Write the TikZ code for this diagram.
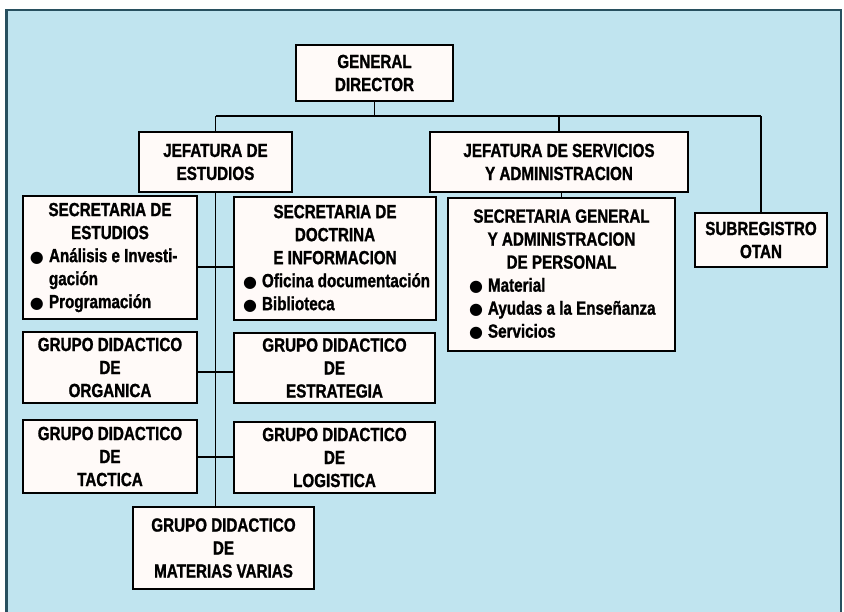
\documentclass[tikz,border=0pt]{standalone}
\usepackage{fontspec}
\setmainfont{Liberation Sans}[FakeStretch=0.8, BoldFeatures={FakeBold=1.2}]
\newfontfamily\symfont{DejaVu Sans}
\newcommand\bul{\makebox[19pt][l]{\symfont\fontsize{16}{16}\selectfont ●}}
\definecolor{bgblue}{RGB}{192,228,239}
\definecolor{framecol}{RGB}{40,80,95}
\definecolor{boxfill}{RGB}{255,250,248}
\tikzset{
  orgbox/.style={draw=black, line width=1.8pt, fill=boxfill, inner sep=0pt,
    align=center, font=\bfseries\fontsize{19}{23}\selectfont},
  link/.style={draw=black, line width=1.8pt}
}
\begin{document}
\begin{tikzpicture}[x=1pt,y=-1pt]
\useasboundingbox (0,0) rectangle (844,611);
\fill[white] (0,0) rectangle (844,611);
\begin{scope}
\clip (0,0) rectangle (844,611);
\filldraw[fill=bgblue, draw=framecol, line width=2.2pt] (6.5,10) rectangle (841,640);
\end{scope}
% coordinates for bus lines
\coordinate (bus) at (0,116);
\coordinate (j1) at (215,267);
\coordinate (j2) at (215,372);
\coordinate (j3) at (215,457);
% boxes
\node[orgbox, minimum width=157pt, minimum height=56pt] (dir) at (374.5,73) {GENERAL\\DIRECTOR};
\node[orgbox, minimum width=153pt, minimum height=60pt] (je) at (215.5,162) {JEFATURA DE\\ESTUDIOS};
\node[orgbox, minimum width=258pt, minimum height=60pt] (js) at (559,162) {JEFATURA DE SERVICIOS\\Y ADMINISTRACION};
\node[orgbox, minimum width=132pt, minimum height=54pt] (sub) at (761,240) {SUBREGISTRO\\OTAN};
\draw[link] (je.north |- bus) -- (sub.north |- bus);
\draw[link] (dir.south) -- (dir.south |- bus);
\draw[link] (je.north |- bus) -- (je.north);
\draw[link] (js.north |- bus) -- (js.north);
\draw[link] (sub.north |- bus) -- (sub.north);
\node[orgbox, minimum width=174pt, minimum height=123pt] (se) at (110,257.5)
  {SECRETARIA DE\\ESTUDIOS\\
   \makebox[160pt][l]{\bul Análisis e Investi-}\\
   \makebox[160pt][l]{\hspace*{19pt}gación}\\
   \makebox[160pt][l]{\bul Programación}};
\node[orgbox, minimum width=202pt, minimum height=123pt] (sd) at (335,258.5)
  {SECRETARIA DE\\DOCTRINA\\E INFORMACION\\
   \makebox[184pt][l]{\bul Oficina documentación}\\
   \makebox[184pt][l]{\bul Biblioteca}};
\node[orgbox, minimum width=227pt, minimum height=153pt] (sg) at (561.5,274.5)
  {SECRETARIA GENERAL\\Y ADMINISTRACION\\DE PERSONAL\\
   \makebox[185pt][l]{\bul Material}\\
   \makebox[185pt][l]{\bul Ayudas a la Enseñanza}\\
   \makebox[185pt][l]{\bul Servicios}};
\node[orgbox, minimum width=174pt, minimum height=71pt] (go) at (110,367.5) {GRUPO DIDACTICO\\DE\\ORGANICA};
\node[orgbox, minimum width=201pt, minimum height=70pt] (ge) at (334.5,368) {GRUPO DIDACTICO\\DE\\ESTRATEGIA};
\node[orgbox, minimum width=174pt, minimum height=73pt] (gt) at (110,456.5) {GRUPO DIDACTICO\\DE\\TACTICA};
\node[orgbox, minimum width=201pt, minimum height=71pt] (gl) at (334.5,457.5) {GRUPO DIDACTICO\\DE\\LOGISTICA};
\node[orgbox, minimum width=181pt, minimum height=82pt] (gm) at (223.5,548) {GRUPO DIDACTICO\\DE\\MATERIAS VARIAS};
% connectors
\draw[link] (je.south) -- (je.south |- gm.north);
\draw[link] (se.east |- j1) -- (sd.west |- j1);
\draw[link] (go.east |- j2) -- (ge.west |- j2);
\draw[link] (gt.east |- j3) -- (gl.west |- j3);
\draw[link] (sg.north |- js.south) -- (sg.north);
\end{tikzpicture}
\end{document}
